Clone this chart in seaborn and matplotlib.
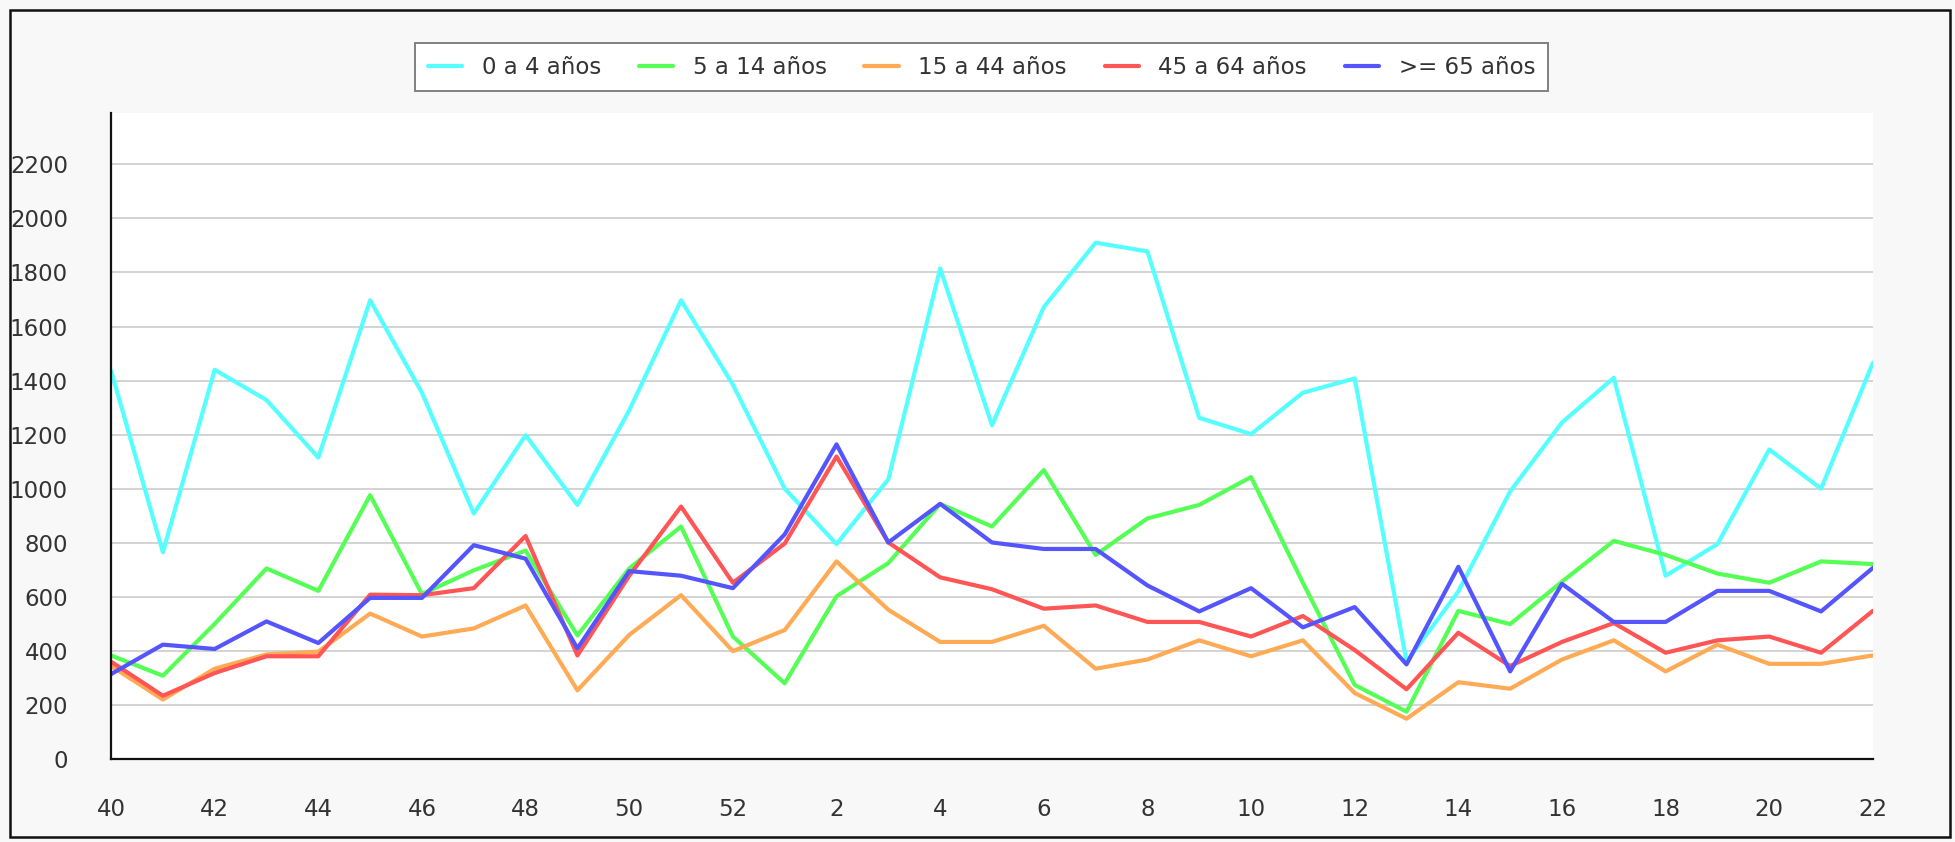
import pandas as pd
import numpy as np
import seaborn as sns
import matplotlib.pyplot as plt
from matplotlib.patches import Rectangle
from matplotlib.ticker import MultipleLocator


weeks = list(range(40, 53)) + list(range(1, 23))

series_names = ["0 a 4 años", "5 a 14 años", "15 a 44 años", "45 a 64 años", ">= 65 años"]

age_0_4 = [1437, 765, 1440, 1328, 1115, 1697, 1355, 908, 1198, 940, 1290, 1697, 1385,
           1000, 795, 1035, 1815, 1235, 1672, 1910, 1878, 1262, 1202, 1355, 1408, 360,
           620, 990, 1245, 1410, 678, 795, 1145, 1000, 1466]
age_5_14 = [383, 308, 500, 705, 622, 976, 610, 698, 771, 457, 705, 860, 453,
            280, 602, 725, 944, 860, 1069, 755, 890, 940, 1043, 652, 274, 175,
            548, 499, 656, 807, 755, 686, 652, 731, 721]
age_15_44 = [344, 220, 334, 387, 397, 538, 453, 483, 568, 254, 459, 606, 399,
             477, 731, 552, 433, 433, 493, 334, 368, 439, 380, 439, 244, 149,
             284, 260, 368, 439, 324, 423, 352, 352, 383]
age_45_64 = [360, 234, 318, 380, 380, 608, 606, 632, 825, 383, 678, 934, 652,
             797, 1119, 801, 672, 628, 556, 568, 507, 507, 453, 529, 403, 258,
             467, 344, 433, 503, 393, 439, 453, 393, 548]
age_65 = [314, 423, 407, 509, 429, 596, 596, 791, 741, 409, 695, 678, 632,
          831, 1164, 801, 944, 801, 777, 777, 642, 546, 632, 487, 562, 350,
          711, 324, 648, 507, 507, 622, 622, 546, 707]

colors = ["#55FFFF", "#55FF55", "#FFAA55", "#FF5555", "#5555FF"]

# long format for seaborn
pos = np.arange(len(weeks))
frames = []
for name, vals in zip(series_names, [age_0_4, age_5_14, age_15_44, age_45_64, age_65]):
    frames.append(pd.DataFrame({"pos": pos, "casos": vals, "grupo": name}))
df = pd.concat(frames, ignore_index=True)

sns.set_style("white")
plt.rcParams['font.family'] = ['DejaVu Sans']
plt.rcParams['text.color'] = '#333333'

fig = plt.figure(figsize=(19.55, 8.42), dpi=100, facecolor="#f8f8f8")
ax = fig.add_axes([0.0568, 0.0986, 0.9012, 0.7672])
ax.set_facecolor("white")

sns.lineplot(data=df, x="pos", y="casos", hue="grupo", hue_order=series_names,
             palette=dict(zip(series_names, colors)), linewidth=3.0, sort=False,
             ax=ax, legend=False)

ax.set_xlim(0, len(weeks) - 1)
ax.set_ylim(0, 2390)
ax.set_xlabel("")
ax.set_ylabel("")

ax.set_xticks(pos[::2])
ax.set_xticklabels([str(w) for w in weeks[::2]])
ax.yaxis.set_major_locator(MultipleLocator(200))
ax.yaxis.set_minor_locator(MultipleLocator(100))
ax.yaxis.set_major_formatter(lambda v, p: f"{int(v)}" if v <= 2200 else "")

ax.grid(axis="y", which="major", color="#cccccc", linewidth=1.2)
ax.set_axisbelow(True)

for s in ["top", "right"]:
    ax.spines[s].set_visible(False)
for s in ["left", "bottom"]:
    ax.spines[s].set_color("#111111")
    ax.spines[s].set_linewidth(1.6)

ax.tick_params(axis="y", which="major", direction="in", length=8, width=1.6,
               color="#111111", pad=31, labelsize=16.5, labelcolor="#333333")
ax.tick_params(axis="y", which="minor", direction="in", length=5, width=1.6,
               color="#111111")
ax.tick_params(axis="x", which="major", direction="in", length=8, width=1.6,
               color="#111111", pad=28, labelsize=16.5, labelcolor="#333333")

handles = [plt.Line2D([], [], color=c, linewidth=3.0) for c in colors]
leg = fig.legend(handles, series_names, loc="center", bbox_to_anchor=(0.502, 0.920),
                 ncol=5, fontsize=16.5, frameon=True, fancybox=False,
                 edgecolor="#808080", facecolor="white", framealpha=1,
                 handlelength=1.5, handletextpad=0.85, columnspacing=1.65,
                 borderpad=0.55)
leg.get_frame().set_linewidth(1.4)

fig.patches.append(Rectangle((10 / 1955, 5 / 842), 1940 / 1955, 827 / 842,
                             transform=fig.transFigure, fill=False,
                             edgecolor="#111111", linewidth=1.8))

plt.savefig("out.png", dpi=100, facecolor=fig.get_facecolor())
